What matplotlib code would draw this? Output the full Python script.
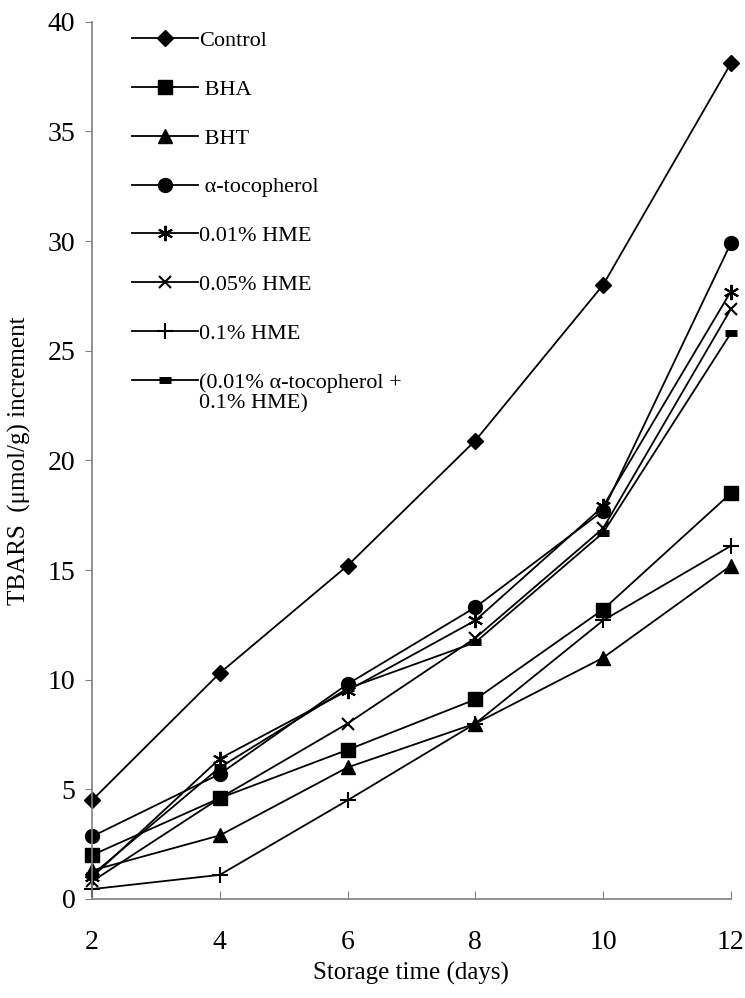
import numpy as np
import matplotlib as mpl
mpl.use('Agg')
import matplotlib.pyplot as plt

plt.rcParams['font.family'] = ['Liberation Serif', 'DejaVu Serif']

days = [2, 4, 6, 8, 10, 12]

control = [4.5, 10.3, 15.2, 20.9, 28.0, 38.1]
bha = [2.0, 4.6, 6.8, 9.1, 13.2, 18.5]
bht = [1.3, 2.9, 6.0, 8.0, 11.0, 15.2]
tocopherol = [2.85, 5.7, 9.8, 13.3, 17.7, 29.9]
hme_001 = [1.0, 6.4, 9.5, 12.7, 17.9, 27.7]
hme_005 = [0.8, 4.6, 8.0, 11.9, 16.9, 26.9]
hme_01 = [0.45, 1.1, 4.5, 8.0, 12.7, 16.1]
combo = [1.1, 6.0, 9.6, 11.7, 16.7, 25.8]

labels = ["Control", " BHA", " BHT", " \u03b1-tocopherol", "0.01% HME",
          "0.05% HME", "0.1% HME", "(0.01% \u03b1-tocopherol +"]
label_tail = "0.1% HME)"

# marker styles, one per series
asterisk = (6, 2, 0)
styles = [dict(marker='D', ms=8),
          dict(marker='s', ms=9.5),
          dict(marker='^', ms=10),
          dict(marker='o', ms=10),
          dict(marker=asterisk, ms=11, mew=1.5),
          dict(marker='x', ms=9, mew=1.5),
          dict(marker='+', ms=11, mew=1.5),
          dict(marker='_', ms=9, mew=5)]

series = [control, bha, bht, tocopherol, hme_001, hme_005, hme_01, combo]

fig = plt.figure(figsize=(7.45, 9.98), dpi=100)
ax = fig.add_axes([0.1235, 0.0992, 0.8575, 0.879])

for vals, lab, st in zip(series, labels, styles):
    ax.plot(days, vals, color='black', lw=1.3, label=lab, clip_on=False,
            markerfacecolor='black', markeredgecolor='black', **st)

ax.set_xlim(2, 12)
ax.set_ylim(0, 40)
ax.set_xticks(days)
ax.set_yticks(np.arange(0, 41, 5))
for s in ['top', 'right']:
    ax.spines[s].set_visible(False)
for s in ['left', 'bottom']:
    ax.spines[s].set_color('#808080')
    ax.spines[s].set_linewidth(1.2)
ax.tick_params(axis='y', direction='out', length=5, color='#808080',
               labelsize=20, pad=7)
ax.tick_params(axis='x', direction='in', length=6, color='#808080',
               labelsize=20, pad=22)

ax.set_xlabel("Storage time (days)", fontsize=18, labelpad=5)
ax.set_ylabel("TBARS  (\u03bcmol/g) increment", fontsize=18, labelpad=12)

leg = ax.legend(loc='upper left', bbox_to_anchor=(0.062, 0.99),
                frameon=False, fontsize=16, handlelength=3.0,
                handletextpad=0.05, labelspacing=1.27, borderpad=0,
                borderaxespad=0)

# second line of the last legend label, under the first line
fig.canvas.draw()
last = leg.get_texts()[-1]
bb = last.get_window_extent()
fig.text(bb.x0, bb.y0 - 2, label_tail, fontsize=16, ha='left', va='top',
         transform=None)

fig.savefig('out.png', dpi=100)
